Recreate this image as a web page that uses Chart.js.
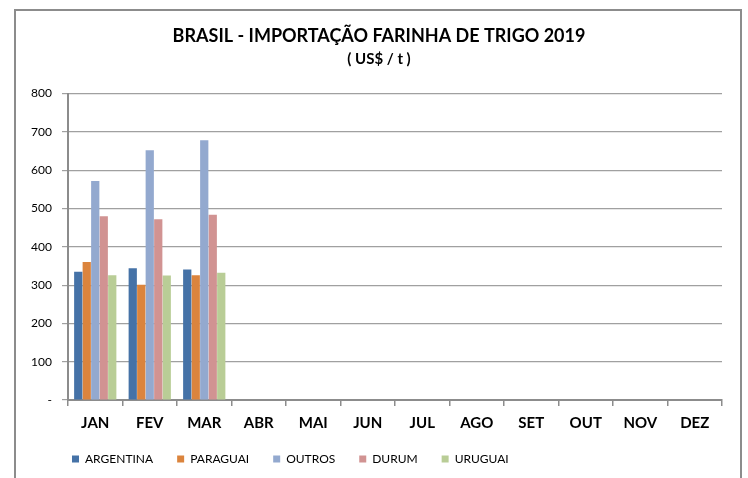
<!DOCTYPE html>
<html>
<head>
<meta charset="utf-8">
<script src="https://cdn.jsdelivr.net/npm/chart.js@4"></script>
<style>
  html, body { margin: 0; padding: 0; background: #fff; }
  #wrap { width: 748px; height: 478px; }
</style>
</head>
<body>
<div id="wrap"><canvas id="chart"></canvas></div>
<script>
// months on the x axis
const months = ["JAN", "FEV", "MAR", "ABR", "MAI", "JUN", "JUL", "AGO", "SET", "OUT", "NOV", "DEZ"];

// US$ / t per origin (only Jan-Mar reported)
const argentina = [335, 344, 341, null, null, null, null, null, null, null, null, null];
const paraguai  = [360, 301, 326, null, null, null, null, null, null, null, null, null];
const outros    = [572, 652, 678, null, null, null, null, null, null, null, null, null];
const durum     = [480, 472, 484, null, null, null, null, null, null, null, null, null];
const uruguai   = [326, 325, 332, null, null, null, null, null, null, null, null, null];

const FONT = "Lato, 'Liberation Sans', sans-serif";

function shiftBox(box, dx) {
  box.left += dx;
  box.right += dx;
}

// grey frame round the whole chart; titles centred on the frame, legend lined up with the plot
const framePlugin = {
  id: "frame",
  afterLayout(chart) {
    shiftBox(chart.legend, 48 - chart.legend.left);
    chart.boxes.forEach((b) => {
      if (b.options && b.options.text && b.position === "top") shiftBox(b, 8);
    });
  },
  beforeDraw(chart) {
    const ctx = chart.ctx;
    ctx.save();
    ctx.fillStyle = "#fff";
    ctx.fillRect(0, 0, chart.width, chart.height);
    ctx.strokeStyle = "#8c8c8c";
    ctx.lineWidth = 2;
    ctx.strokeRect(15, 10, 726, 490);
    ctx.restore();
  }
};

function ds(label, data, color) {
  return {
    label: label,
    data: data,
    backgroundColor: color,
    borderWidth: 0,
    barPercentage: 0.97,
    categoryPercentage: 0.78
  };
}

new Chart(document.getElementById("chart"), {
  type: "bar",
  data: {
    labels: months,
    datasets: [
      ds("ARGENTINA", argentina, "#4572A7"),
      ds("PARAGUAI", paraguai, "#DB843D"),
      ds("OUTROS", outros, "#93A9CF"),
      ds("DURUM", durum, "#D19392"),
      ds("URUGUAI", uruguai, "#B9CD96")
    ]
  },
  options: {
    responsive: true,
    maintainAspectRatio: false,
    animation: false,
    layout: { padding: { left: 20, right: 26, top: 0, bottom: 3 } },
    plugins: {
      title: {
        display: true,
        text: "BRASIL - IMPORTAÇÃO FARINHA DE TRIGO 2019",
        color: "#000",
        font: { family: FONT, size: 18, weight: "bold" },
        padding: { top: 25, bottom: 0 }
      },
      subtitle: {
        display: true,
        text: "( US$ / t )",
        color: "#000",
        font: { family: FONT, size: 15, weight: "bold" },
        padding: { top: 4, bottom: 25 }
      },
      legend: {
        position: "bottom",
        align: "start",
        labels: {
          boxWidth: 7,
          boxHeight: 7,
          padding: 24,
          color: "#000",
          font: { family: FONT, size: 12 }
        }
      },
      tooltip: { enabled: false }
    },
    scales: {
      x: {
        afterFit(scale) { scale.height = 29; },
        grid: { display: true, drawOnChartArea: false, drawTicks: true, tickLength: 6, color: "#8c8c8c", lineWidth: 1.5, offset: true },
        border: { color: "#8c8c8c", width: 2 },
        ticks: { color: "#000", padding: 8, font: { family: FONT, size: 15, weight: "bold" } }
      },
      y: {
        min: 0,
        max: 800,
        afterFit(scale) { scale.width = 48; },
        grid: { color: "#a0a0a0", lineWidth: 1.2, tickLength: 6 },
        border: { color: "#8c8c8c", width: 2 },
        ticks: {
          stepSize: 100,
          padding: 10,
          color: "#000",
          font: { family: FONT, size: 12 },
          callback: (v) => (v === 0 ? "-" : v)
        }
      }
    }
  },
  plugins: [framePlugin]
});
</script>
</body>
</html>
